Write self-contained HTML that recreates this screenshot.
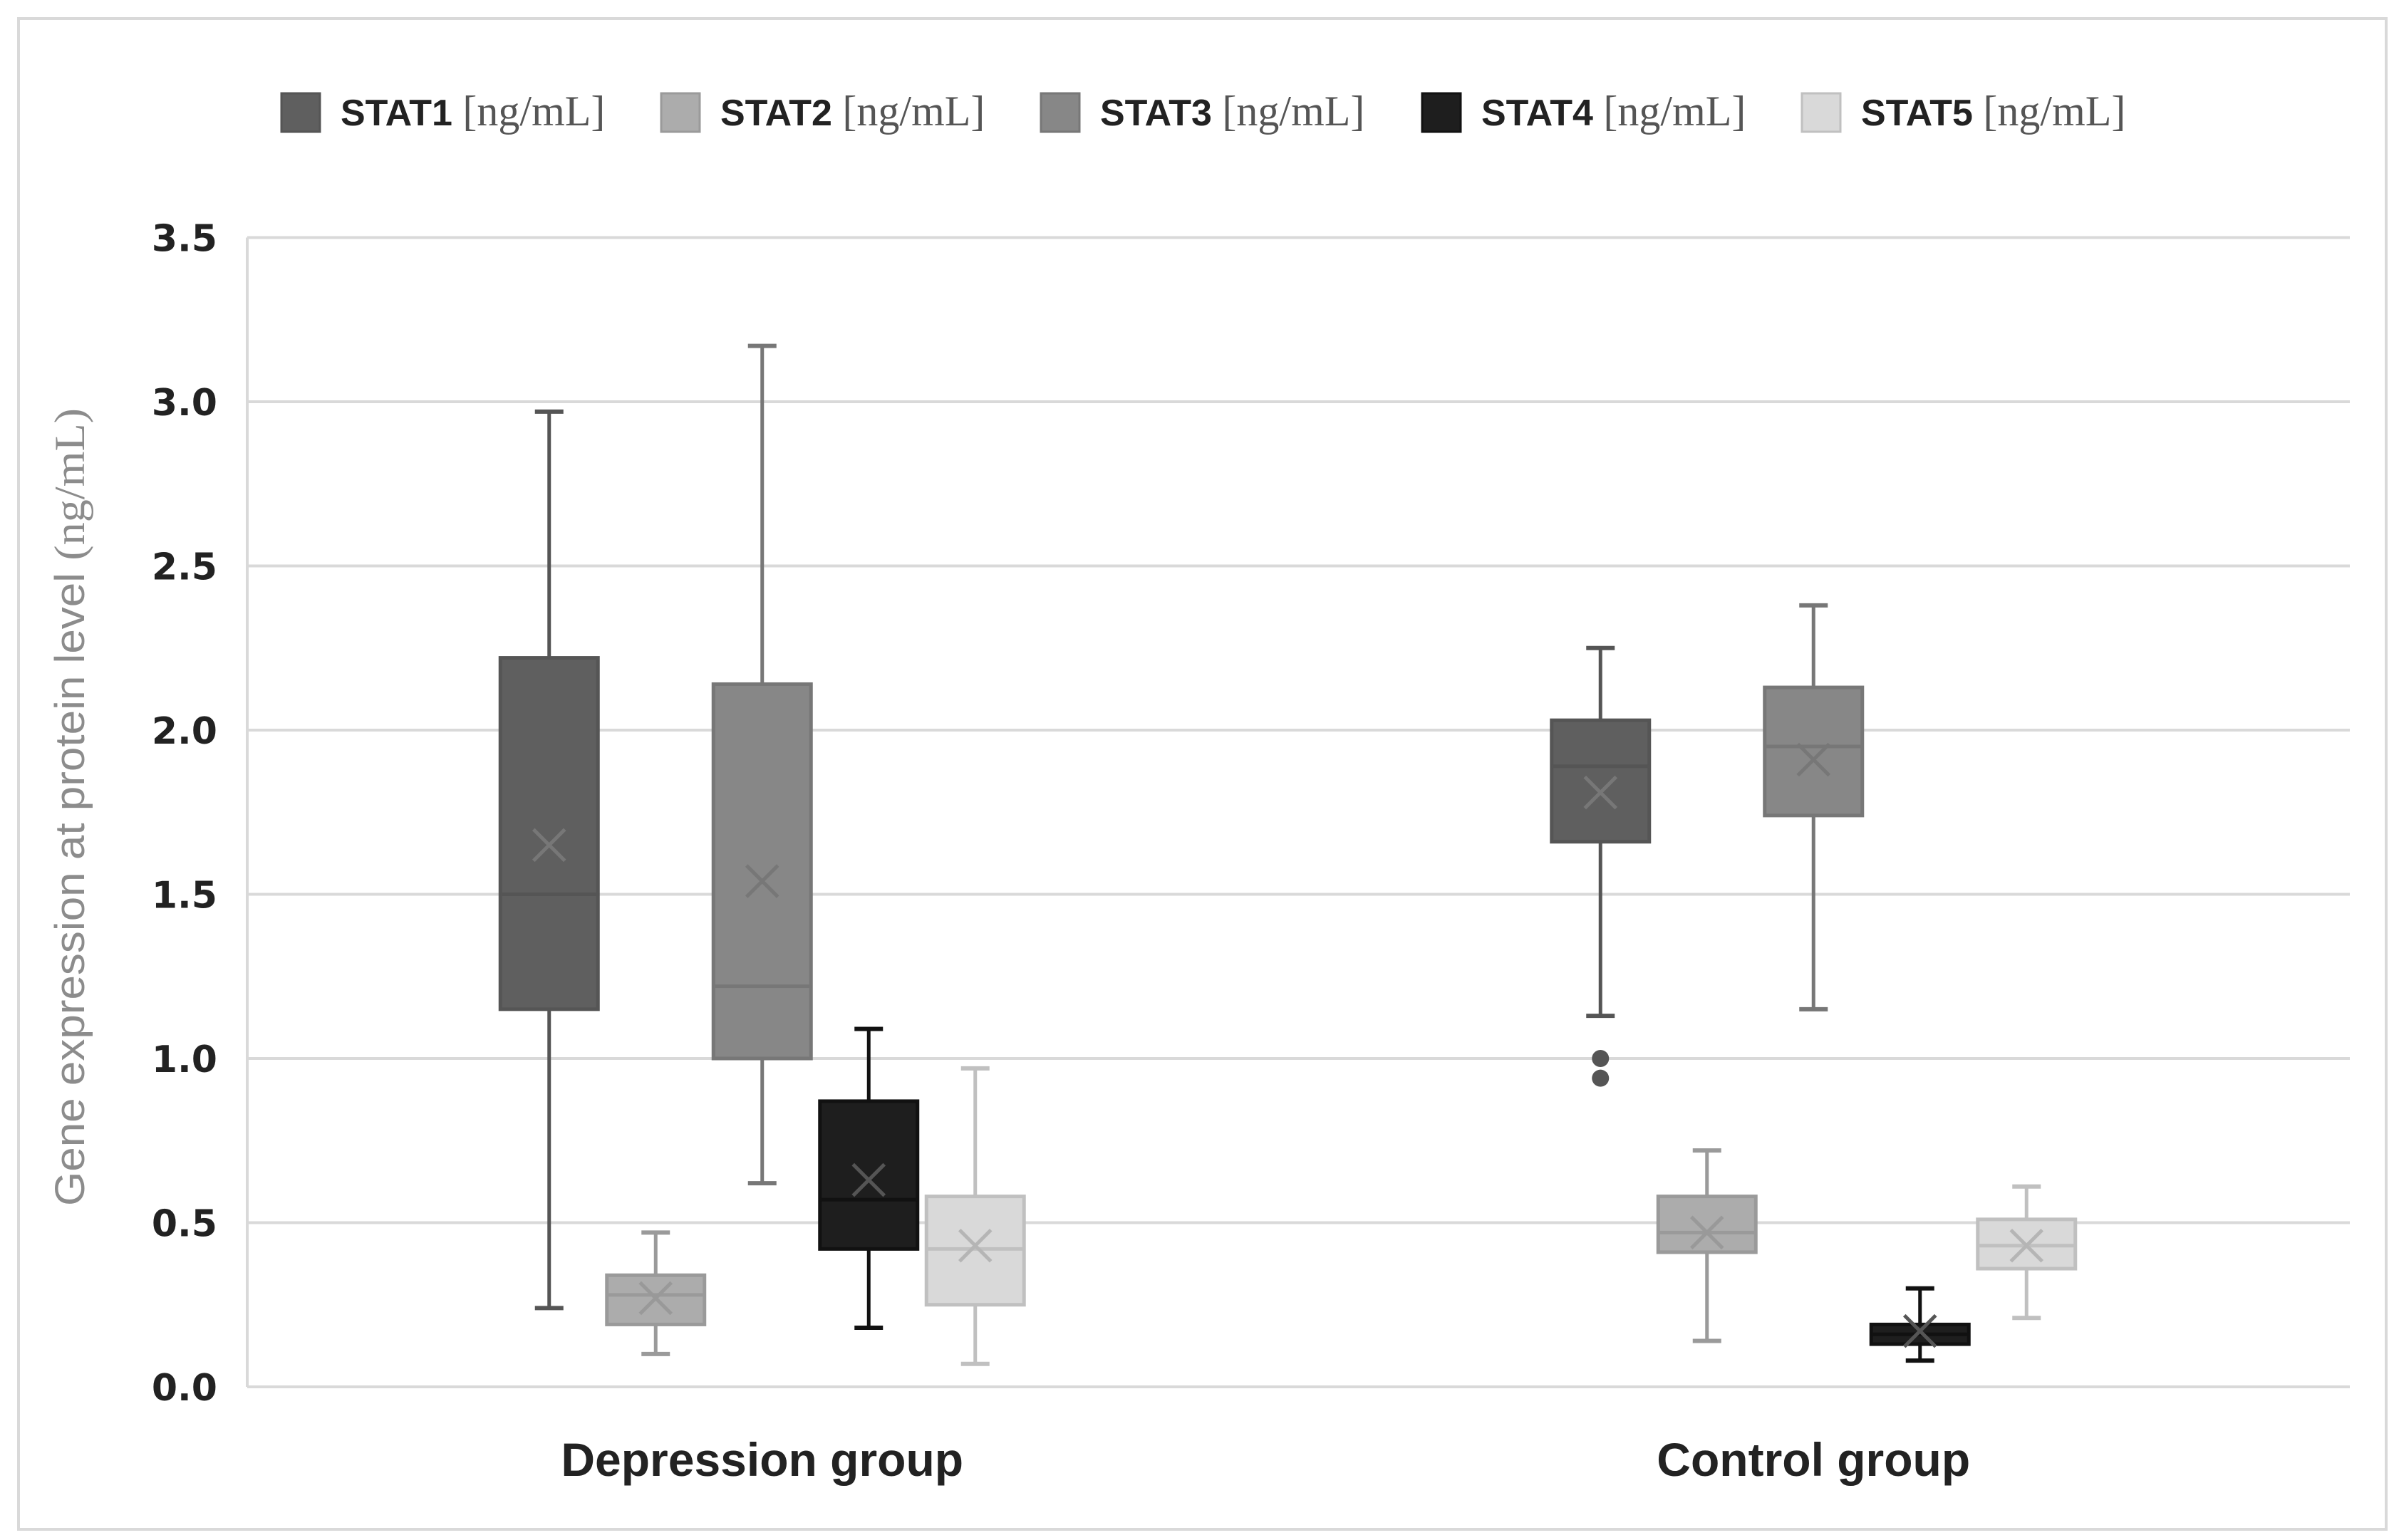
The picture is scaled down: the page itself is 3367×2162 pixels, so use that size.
<!DOCTYPE html>
<html><head><meta charset="utf-8">
<style>
html,body{margin:0;padding:0;background:#fff;}
svg{display:block;}
</style></head>
<body>
<svg id="chart" width="3367" height="2162" xmlns="http://www.w3.org/2000/svg">
<rect x="26" y="26" width="3323" height="2121" fill="#fff" stroke="#d9d9d9" stroke-width="4"/>
<g id="grid"></g>
<g id="yticks"></g>
<g id="boxes"></g>
<g id="legend"></g>
<g id="xlabels"></g>
<text transform="translate(118,1133) rotate(-90)" text-anchor="middle" font-family="Liberation Sans, sans-serif" font-size="58" fill="#8c8c8c" textLength="1120" lengthAdjust="spacingAndGlyphs">Gene expression at protein level <tspan font-family="Liberation Serif, serif" font-size="60">(ng/mL)</tspan></text>
</svg>
<script>
const categories = ["Depression group", "Control group"];
const series = ["STAT1", "STAT2", "STAT3", "STAT4", "STAT5"];
const tickValues = [0, 0.5, 1, 1.5, 2, 2.5, 3, 3.5];
const tickLabels = ["0.0","0.5","1.0","1.5","2.0","2.5","3.0","3.5"];
// [min, q1, median, q3, max, mean] per series, per category
const depressionStats = [
  [0.24, 1.15, 1.50, 2.22, 2.97, 1.65],
  [0.10, 0.19, 0.28, 0.34, 0.47, 0.27],
  [0.62, 1.00, 1.22, 2.14, 3.17, 1.54],
  [0.18, 0.42, 0.57, 0.87, 1.09, 0.63],
  [0.07, 0.25, 0.42, 0.58, 0.97, 0.43]
];
const controlStats = [
  [1.13, 1.66, 1.89, 2.03, 2.25, 1.81],
  [0.14, 0.41, 0.47, 0.58, 0.72, 0.47],
  [1.15, 1.74, 1.95, 2.13, 2.38, 1.91],
  [0.08, 0.13, 0.16, 0.19, 0.30, 0.17],
  [0.21, 0.36, 0.43, 0.51, 0.61, 0.43]
];
const controlOutliersSTAT1 = [1.00, 0.94];

const NS = "http://www.w3.org/2000/svg";
const fills = ["#5f5f5f","#acacac","#878787","#1e1e1e","#d9d9d9"];
const strokes = ["#555","#9a9a9a","#777","#111","#c0c0c0"];
const meanCol = ["#777","#999","#777","#555","#b5b5b5"];
const X0 = 347, X1 = 3298, Y0 = 1947, PX = 461;
const y = v => Y0 - v * PX;
const catW = (X1 - X0) / categories.length;
const catX = i => X0 + catW * (i + 0.5) - 15;
const step = 149.5, bw = 137;
const sx = (c, s) => catX(c) + (s - 2) * step;
function mk(tag, attrs, parent) {
  const e = document.createElementNS(NS, tag);
  for (const k in attrs) e.setAttribute(k, attrs[k]);
  parent.appendChild(e); return e;
}
const grid = document.getElementById('grid');
const yt = document.getElementById('yticks');
tickValues.forEach((v, i) => {
  const l = mk('line', {x1: X0, x2: X1, y1: y(v), y2: y(v), stroke: '#d9d9d9', 'stroke-width': 4}, grid);
  
  
  const t = mk('text', {x: 305, y: y(v) + 19, 'text-anchor': 'end', 'font-family': 'DejaVu Sans, sans-serif', 'font-weight': 'bold', 'font-size': 52, fill: '#222'}, yt);
  t.textContent = tickLabels[i];
  
  
});
mk('line', {x1: X0, x2: X0, y1: y(3.5), y2: Y0, stroke: '#d9d9d9', 'stroke-width': 4}, grid);
const boxes = document.getElementById('boxes');
[depressionStats, controlStats].forEach((stats, c) => {
  stats.forEach((d, s) => {
    const g = mk('g', {}, boxes);
    
    
    const cx = sx(c, s), st = strokes[s];
    mk('line', {x1: cx, x2: cx, y1: y(d[4]), y2: y(d[3]), stroke: st, 'stroke-width': 5}, g);
    mk('line', {x1: cx, x2: cx, y1: y(d[1]), y2: y(d[0]), stroke: st, 'stroke-width': 5}, g);
    mk('line', {x1: cx - 20, x2: cx + 20, y1: y(d[4]), y2: y(d[4]), stroke: st, 'stroke-width': 6}, g);
    mk('line', {x1: cx - 20, x2: cx + 20, y1: y(d[0]), y2: y(d[0]), stroke: st, 'stroke-width': 6}, g);
    mk('rect', {x: cx - bw / 2, y: y(d[3]), width: bw, height: y(d[1]) - y(d[3]), fill: fills[s], stroke: st, 'stroke-width': 5}, g);
    mk('line', {x1: cx - bw / 2, x2: cx + bw / 2, y1: y(d[2]), y2: y(d[2]), stroke: st, 'stroke-width': 5}, g);
    const my = y(d[5]), r = 22;
    mk('path', {d: `M${cx - r},${my - r}L${cx + r},${my + r}M${cx + r},${my - r}L${cx - r},${my + r}`, stroke: meanCol[s], 'stroke-width': 5, fill: 'none'}, g);
  });
});
controlOutliersSTAT1.forEach(v => {
  const o = mk('circle', {cx: sx(1, 0), cy: y(v), r: 12, fill: '#555'}, boxes);
  
  
});
const leg = document.getElementById('legend');
const legX = [395, 928, 1461, 1996, 2529];
series.forEach((s, i) => {
  const g = mk('g', {}, leg);
  
  
  mk('rect', {x: legX[i], y: 131, width: 54, height: 54, fill: fills[i], stroke: strokes[i], 'stroke-width': 3}, g);
  const t = mk('text', {x: legX[i] + 83, y: 176, 'font-family': 'Liberation Sans, sans-serif', 'font-size': 52, 'font-weight': 'bold', fill: '#222'}, g);
  t.textContent = s + ' ';
  const ts = mk('tspan', {'font-weight': 'normal', 'font-family': 'Liberation Serif, serif', fill: '#555', 'font-size': 60}, t);
  ts.textContent = '[ng/mL]';
});
const xl = document.getElementById('xlabels');
categories.forEach((c, i) => {
  const t = mk('text', {x: catX(i), y: 2072, 'text-anchor': 'middle', 'font-family': 'Liberation Sans, sans-serif', 'font-weight': 'bold', 'font-size': 66, fill: '#222'}, xl);
  t.textContent = c;
  
  
});
</script>
</body></html>
